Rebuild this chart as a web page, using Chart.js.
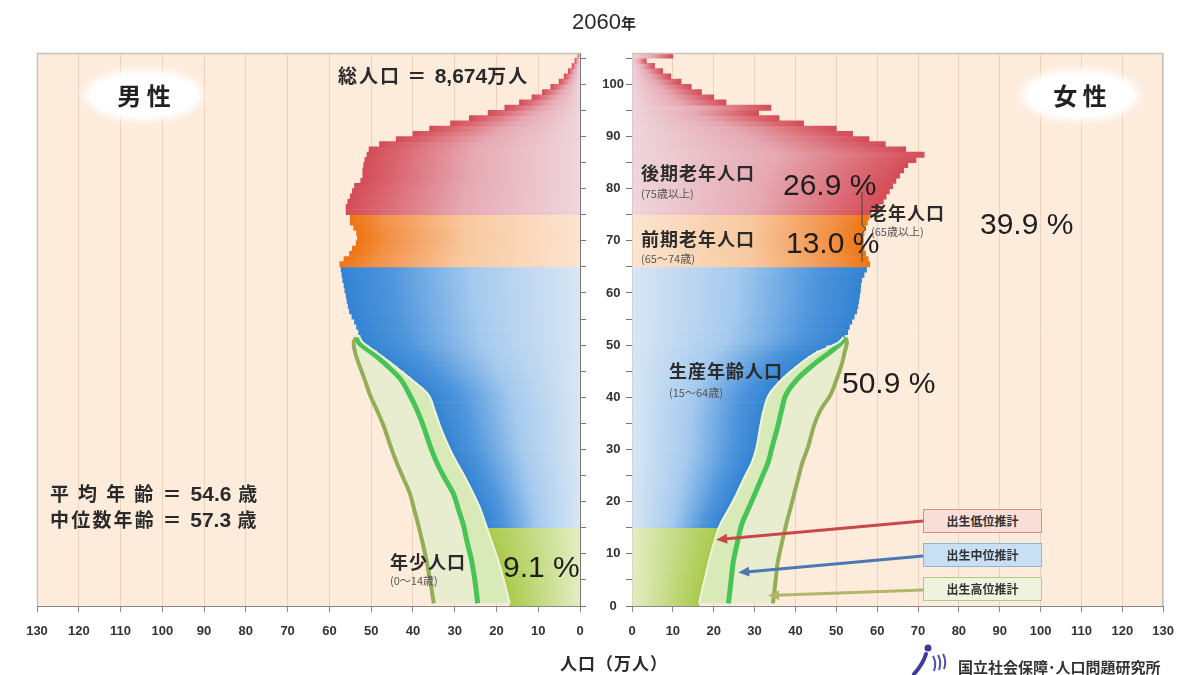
<!DOCTYPE html>
<html lang="ja"><head><meta charset="utf-8">
<script src="https://cdn.jsdelivr.net/npm/chart.js@4.4.1/dist/chart.umd.min.js"></script>
<style>
body{margin:0;width:1186px;height:675px;position:relative;overflow:hidden;background:#fff;font-family:"Noto Sans CJK JP","Liberation Sans",sans-serif;color:#2a2a2a}
canvas{position:absolute;top:0}
.t{position:absolute;white-space:nowrap;line-height:1;transform:translateY(-50%)}
.lab{font-size:18px;font-weight:700;letter-spacing:1px;color:#2b2b2b}
.sub{font-size:11px;color:#555}
.pct{font-family:"Liberation Sans",Arial,sans-serif;font-size:30px;color:#1e1e1e}
.num{font-family:"Liberation Sans",Arial,sans-serif;font-weight:700;font-size:21px;letter-spacing:0}
.pill{position:absolute;background:#fff;border-radius:50%;box-shadow:0 0 8px 5px #fff;font-size:24px;font-weight:700;text-align:center;color:#222}
.box{position:absolute;width:117px;height:22px;font-size:12px;font-weight:700;text-align:center;line-height:22px;color:#333;box-sizing:content-box}
</style></head>
<body>
<canvas id="male" width="592" height="650" style="left:0"></canvas>
<canvas id="female" width="594" height="650" style="left:592px"></canvas>

<div class="t" style="left:572px;top:22px"><span style="font-family:'Liberation Sans';font-size:22px">2060</span><span style="font-size:15px;font-weight:700">年</span></div>
<div class="pill" style="left:90px;top:74px;width:108px;height:42px;line-height:42px">男 性</div>
<div class="pill" style="left:1026px;top:74px;width:108px;height:42px;line-height:42px">女 性</div>
<div class="t" style="left:338px;top:75px;font-size:19px;font-weight:700;letter-spacing:2px">総人口 ＝ <span class="num">8,674</span>万人</div>
<div class="t" style="left:50px;top:493px;font-size:19px;font-weight:700;letter-spacing:2.4px">平 均 年 齢 ＝ <span class="num">54.6</span> 歳</div>
<div class="t" style="left:50px;top:519px;font-size:19px;font-weight:700;letter-spacing:2.2px">中位数年齢 ＝ <span class="num">57.3</span> 歳</div>

<div class="t lab" style="left:390px;top:561px">年少人口</div>
<div class="t sub" style="left:390px;top:580px">(0～14歳)</div>
<div class="t pct" style="left:503px;top:567px">9.1 %</div>

<div class="t lab" style="left:641px;top:172px">後期老年人口</div>
<div class="t sub" style="left:641px;top:193px">(75歳以上)</div>
<div class="t pct" style="left:783px;top:185px">26.9 %</div>
<div class="t lab" style="left:641px;top:238px">前期老年人口</div>
<div class="t sub" style="left:641px;top:258px">(65～74歳)</div>
<div class="t pct" style="left:786px;top:243px">13.0 %</div>
<div class="t lab" style="left:869px;top:212px">老年人口</div>
<div class="t sub" style="left:871px;top:231px">(65歳以上)</div>
<div class="t pct" style="left:980px;top:224px">39.9 %</div>
<div class="t lab" style="left:669px;top:370px">生産年齢人口</div>
<div class="t sub" style="left:669px;top:392px">(15～64歳)</div>
<div class="t pct" style="left:842px;top:383px">50.9 %</div>

<svg style="position:absolute;left:0;top:0" width="1186" height="675">
<path d="M862 192 L862 225 L866 229 L862 233 L862 262" fill="none" stroke="#444" stroke-width="1"/>
<g transform="translate(910,643)">
<circle cx="18" cy="5" r="3.5" fill="#3D3A99"/>
<path d="M16 11 Q13 21 4 31" fill="none" stroke="#3D3A99" stroke-width="4" stroke-linecap="round"/>
<path d="M23 13 Q27 20 24 28 M28 12 Q32 19 29 27 M33 11 Q37 18 34 26" fill="none" stroke="#4C4FB0" stroke-width="2"/>
</g>
</svg>

<div class="box" style="left:923px;top:509px;background:#F9DED8;border:1.5px solid #D98C88">出生低位推計</div>
<div class="box" style="left:923px;top:543px;background:#C9DFF3;border:1.5px solid #93B3D3">出生中位推計</div>
<div class="box" style="left:923px;top:577px;background:#EFF3DD;border:1.5px solid #B5C68C">出生高位推計</div>

<div class="t" style="left:560px;top:662px;font-size:17px;font-weight:700;letter-spacing:1px">人口（万人）</div>
<div class="t" style="left:958px;top:666px;font-size:15px;font-weight:700;color:#333">国立社会保障･人口問題研究所</div>

<script>
// ---- data ----
const ages = [...Array(106).keys()];
const maleData = [
 16.8,17.1,17.4,17.8,18.1,18.4,18.8,19.2,19.5,19.9,20.3,20.7,21.2,21.6,22.1,
 22.5,22.9,23.4,23.8,24.3,24.9,25.5,26.1,26.8,27.4,28.0,28.7,29.5,30.2,30.8,
 31.4,32.0,32.5,33.0,33.5,33.9,34.3,34.8,35.3,35.8,36.3,37.5,39.0,40.5,42.0,43.6,45.2,46.8,48.5,50.5,
 52.0,52.5,53.0,53.5,54.0,54.6,55.2,55.5,55.8,56.0,56.3,56.5,56.8,57.0,57.2,
 57.5,56.5,55.2,54.5,53.6,53.3,53.5,54.2,55.0,55.0,
 56.0,56.0,55.6,55.0,54.5,54.0,52.5,52.0,52.0,51.8,51.5,51.0,50.5,48.0,44.0,
 40.0,36.0,31.0,26.5,22.0,18.0,14.5,11.5,9.0,7.0,5.0,3.8,2.8,1.9,1.2,0.5];
const femaleData = [
 16.4,16.7,17.0,17.3,17.6,17.9,18.2,18.5,18.8,19.1,19.5,19.8,20.2,20.6,21.1,
 21.5,22.2,22.9,23.6,24.3,25.0,25.6,26.2,26.8,27.4,28.0,28.7,29.3,29.7,30.1,
 30.5,30.9,31.1,31.2,31.4,31.6,31.9,32.2,32.6,33.0,33.5,34.5,35.5,36.8,38.3,39.8,41.3,43.0,45.0,47.5,
 50.5,52.0,52.8,53.2,53.8,54.4,55.0,55.3,55.5,55.7,55.9,56.0,56.2,56.8,57.4,
 58.2,57.8,57.2,56.8,56.6,56.6,56.8,57.2,57.6,58.0,
 58.5,60.5,61.5,62.2,63.0,63.8,64.6,65.5,66.5,67.5,69.5,71.5,67.0,62.0,58.0,
 54.0,50.0,42.0,36.0,31.0,34.0,23.0,20.0,17.0,14.5,12.0,9.5,7.5,5.5,3.5,10.0];
// fertility variants (low / medium / high) for ages born after the base year
const ribbonAges = [0,4,8,12,15,18,21,24,27,30,34,37,40,43,46,48,50,51];
const maleLow    = [16.8,18.1,19.5,21.2,22.5,23.8,25.5,27.4,29.5,31.4,33.5,34.8,36.3,40.5,45.2,48.5,52.0,52.8];
const maleMid    = [24.5,25.1,25.9,27.1,27.9,29.1,30.3,32.4,34.3,35.8,37.5,39.0,40.8,43.0,46.8,49.8,53.0,53.2];
const maleHigh   = [35.0,35.8,36.7,37.8,38.7,39.7,40.7,42.3,43.9,45.3,47.0,48.6,50.3,51.6,53.0,53.8,54.2,53.6];
const femaleLow  = [16.4,17.6,18.8,20.2,21.5,23.6,25.6,27.4,29.3,30.5,31.4,32.2,33.5,36.8,41.3,45.0,50.5,51.8];
const femaleMid  = [23.6,24.2,24.8,25.9,26.8,28.4,30.1,31.7,33.3,34.3,35.7,36.6,37.7,40.5,44.8,48.2,51.3,52.0];
const femaleHigh = [34.5,35.1,35.7,36.8,37.7,38.7,39.7,40.7,41.7,43.1,44.5,46.1,48.6,50.1,51.4,52.0,52.6,52.2];
const xTickValues = [0,10,20,30,40,50,60,70,80,90,100,110,120,130];
const yTickValues = [0,5,10,15,20,25,30,35,40,45,50,55,60,65,70,75,80,85,90,95,100,105];
const arrowTargets = [
  {age:12.7, value:20.6, color:'#C9474A', tailY:521},
  {age:6.4,  value:26.0, color:'#4A78B2', tailY:556},
  {age:2.0,  value:33.3, color:'#B3B56A', tailY:590}
];

// ---- styling ----
const groupStops = {
  red:    [[0,'#EFD6DC'],[0.5,'#E6A9B3'],[0.85,'#DA6670'],[1,'#D44C57']],
  orange: [[0,'#FCE4D0'],[0.5,'#F8C9A0'],[0.85,'#F29248'],[1,'#EE7512']],
  blue:   [[0,'#D9E6F3'],[0.45,'#A5CAEE'],[0.8,'#4E95DC'],[1,'#3383D2']],
  green:  [[0,'#E4EDC3'],[1,'#A9CA4B']]
};
function groupOf(age){ return age>=75?'red':age>=65?'orange':age>=15?'blue':'green'; }
function barColor(ctx){
  const chart = ctx.chart, area = chart.chartArea;
  if(!area || !ctx.parsed) return '#ccc';
  const xs = chart.scales.x;
  const x0 = xs.getPixelForValue(0), x1 = xs.getPixelForValue(ctx.parsed.x);
  if(Math.abs(x1-x0) < 1) return groupStops[groupOf(ctx.dataIndex)][0][1];
  const g = chart.ctx.createLinearGradient(x0,0,x1,0);
  groupStops[groupOf(ctx.dataIndex)].forEach(s=>g.addColorStop(s[0],s[1]));
  return g;
}
const bgPlugin = {
  id:'bg',
  beforeDraw(chart){
    const {ctx, chartArea:a} = chart;
    ctx.save(); ctx.fillStyle='#FDEBDC'; ctx.fillRect(a.left,a.top,a.width,a.height); ctx.restore();
  },
  afterDraw(chart){
    const {ctx, chartArea:a} = chart; const male = chart.canvas.id==='male';
    ctx.save(); ctx.strokeStyle='#C8C1BA'; ctx.lineWidth=1.5; ctx.beginPath();
    ctx.moveTo(a.left,a.top+0.5); ctx.lineTo(a.right,a.top+0.5);
    const ex = male ? a.left+0.5 : a.right-0.5;
    ctx.moveTo(ex,a.top); ctx.lineTo(ex,a.bottom);
    ctx.stroke(); ctx.restore();
  }
};
const arrowPlugin = {
  id:'arrows',
  afterDatasetsDraw(chart){
    if(chart.canvas.id!=='female') return;
    const {ctx, scales:{x,y}} = chart;
    const tailX = 923 - 592;
    arrowTargets.forEach(a=>{
      const tx = x.getPixelForValue(a.value), ty = y.getPixelForValue(a.age);
      const ang = Math.atan2(ty - a.tailY, tx - tailX);
      ctx.save(); ctx.strokeStyle=a.color; ctx.fillStyle=a.color; ctx.lineWidth=3;
      ctx.beginPath(); ctx.moveTo(tailX,a.tailY);
      ctx.lineTo(tx-8*Math.cos(ang), ty-8*Math.sin(ang)); ctx.stroke();
      ctx.beginPath(); ctx.moveTo(tx,ty);
      ctx.lineTo(tx-11*Math.cos(ang)+5*Math.sin(ang), ty-11*Math.sin(ang)-5*Math.cos(ang));
      ctx.lineTo(tx-11*Math.cos(ang)-5*Math.sin(ang), ty-11*Math.sin(ang)+5*Math.cos(ang));
      ctx.closePath(); ctx.fill(); ctx.restore();
    });
  }
};

function makeChart(id, values, low, mid, high, isMale){
  const pts = arr => ribbonAges.map((a,i)=>({x:arr[i], y:a+0.5}));
  return new Chart(document.getElementById(id), {
    type:'bar',
    data:{ datasets:[
      { type:'bar', indexAxis:'y', data: ages.map((a,i)=>({x:values[i], y:a+0.5})),
        backgroundColor: barColor, borderWidth:0, barPercentage:1, categoryPercentage:1, order:10 },
      { type:'line', indexAxis:'y', data: pts(low), borderColor:'#F0F4DC', borderWidth:2,
        pointRadius:0, tension:0.35, fill:false, order:0 },
      { type:'line', indexAxis:'y', data: pts(mid), borderColor:'#48C457', borderWidth:5,
        pointRadius:0, tension:0.35, fill:'-1', backgroundColor:'#D8EAB7', order:1 },
      { type:'line', indexAxis:'y', data: pts(high), borderColor:'#93AE57', borderWidth:4,
        pointRadius:0, tension:0.35, fill:'-1', backgroundColor:'#E8EDD0', order:2 }
    ]},
    options:{
      indexAxis:'y', responsive:false, animation:false, events:[],
      layout:{ padding: isMale ? {left:37, top:53, right:0, bottom:0} : {left:0, top:53, right:13, bottom:0} },
      plugins:{ legend:{display:false}, tooltip:{enabled:false} },
      scales:{
        x:{ type:'linear', min:0, max:130, reverse:isMale, offset:false,
            afterBuildTicks: s => { s.ticks = xTickValues.map(v=>({value:v})); },
            ticks:{ padding:12, color:'#333', font:{family:'Liberation Sans', size:13, weight:'bold'}, maxRotation:0 },
            grid:{ color:'rgba(210,180,150,0.45)', tickColor:'#888', tickLength:6, offset:false },
            border:{ color:'#888', width:1 },
            afterFit: s => { s.height = 44; } },
        y:{ type:'linear', min:0, max:106, position: isMale ? 'right' : 'left', offset:false,
            afterBuildTicks: s => { s.ticks = yTickValues.map(v=>({value:v})); },
            ticks:{ autoSkip:false, crossAlign:'center', padding:2, color:'#333',
                    font:{family:'Liberation Sans', size:13, weight:'bold'},
                    callback: v => (!isMale && v % 10 === 0) ? String(v) : '' },
            grid:{ drawOnChartArea:false, tickLength:6, tickColor:'#777', offset:false },
            border:{ color:'#777', width:1 },
            afterFit: s => { s.width = isMale ? 12 : 40; } }
      }
    },
    plugins:[bgPlugin, arrowPlugin]
  });
}
makeChart('male', maleData, maleLow, maleMid, maleHigh, true);
makeChart('female', femaleData, femaleLow, femaleMid, femaleHigh, false);
</script>
</body></html>
